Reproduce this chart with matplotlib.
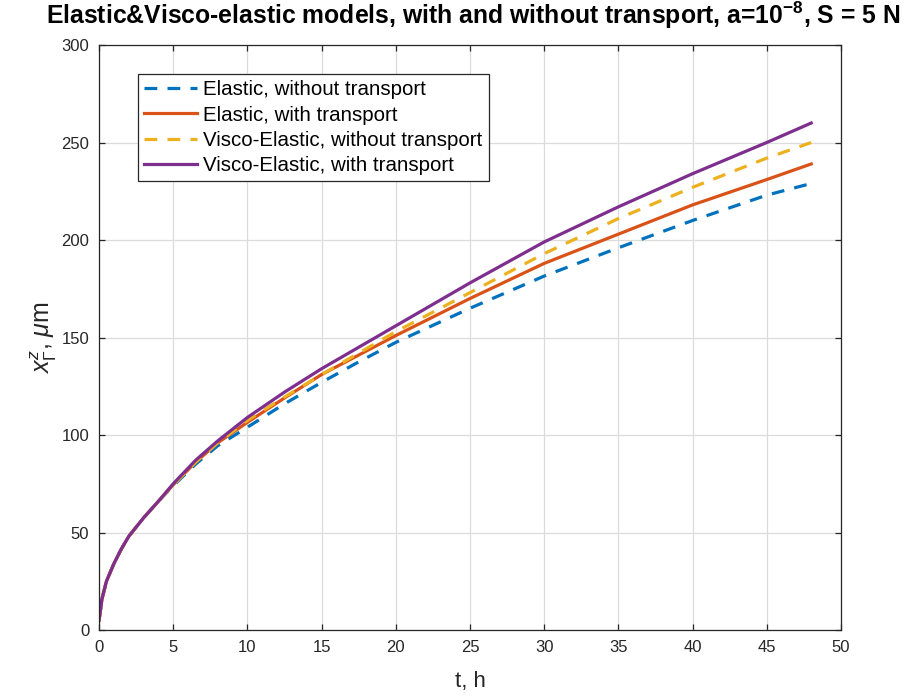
import numpy as np
import matplotlib
matplotlib.use('Agg')
import matplotlib.pyplot as plt

plt.rcParams['font.family'] = ['Liberation Sans', 'DejaVu Sans']
plt.rcParams['mathtext.fontset'] = 'custom'
plt.rcParams['mathtext.rm'] = 'Liberation Sans'
plt.rcParams['mathtext.it'] = 'Liberation Sans:italic'
plt.rcParams['mathtext.bf'] = 'Liberation Sans:bold'

# time, hours
t = [0, 0.2, 0.5, 1, 1.5, 2, 3, 4, 5, 6.5, 8, 10, 12.5, 15, 17.5, 20, 25, 30, 35, 40, 45, 48]

# x_Gamma^z, micrometres
elastic_no_tr = [5, 16, 25, 34, 41.5, 48, 57.5, 66, 74, 85, 94.5, 104, 116, 127, 137.5, 147.5,
                 165, 181.5, 196, 210, 223, 229]
elastic_tr = [5, 16, 25, 34, 41.5, 48, 57.5, 66, 74.5, 86, 96, 106.5, 119, 131, 141, 151,
              170, 188, 203, 218, 231, 239]
visco_no_tr = [5, 16, 25, 34, 41.5, 48, 57.5, 66, 74.5, 86, 96, 107.5, 119.5, 131, 142, 153,
               173, 193, 211, 227, 242, 250]
visco_tr = [5, 16, 25, 34, 41.5, 48, 57.5, 66, 75, 87, 97, 109, 122, 134, 145, 156,
            178, 199, 217, 234, 250, 260]

labels = ['Elastic, without transport', 'Elastic, with transport',
          'Visco-Elastic, without transport', 'Visco-Elastic, with transport']

fig = plt.figure(figsize=(9.17, 6.98), dpi=100)
ax = fig.add_axes([0.108, 0.0974, 0.809, 0.8381])

lw = 2.3
ax.plot(t, elastic_no_tr, color='#0072BD', lw=lw, dashes=(4, 3.2), label=labels[0])
ax.plot(t, elastic_tr, color='#D95319', lw=lw, label=labels[1])
ax.plot(t, visco_no_tr, color='#EDB120', lw=lw, dashes=(4, 3.2), label=labels[2])
ax.plot(t, visco_tr, color='#7E2F8E', lw=lw, label=labels[3])

ax.set_xlim(0, 50)
ax.set_ylim(0, 300)
ax.set_xticks(np.arange(0, 51, 5))
ax.set_yticks(np.arange(0, 301, 50))
ax.grid(True, color='#dcdcdc', lw=0.9)
ax.set_axisbelow(True)
for s in ax.spines.values():
    s.set_color('#262626')
    s.set_linewidth(0.9)
ax.tick_params(direction='in', length=4, width=0.9, colors='#262626', labelsize=12,
               top=True, right=True, pad=7)

ax.set_xlabel('t, h', fontsize=16, color='#262626', labelpad=12)
ax.set_ylabel(r'$x_{\Gamma}^{z}$, $\mu$m', fontsize=18, color='#262626', labelpad=2)
ax.set_title(r'Elastic&Visco-elastic models, with and without transport, a=10$^{\mathbf{-8}}$, S = 5 N',
             fontsize=17.8, fontweight='bold', pad=15, x=0.505)

leg = ax.legend(loc='upper left', bbox_to_anchor=(0.052, 0.95), fontsize=14.8,
                handlelength=2.6, handletextpad=0.3, labelspacing=0.3,
                borderpad=0.3, fancybox=False, framealpha=1, borderaxespad=0)
leg.get_frame().set_edgecolor('#262626')
leg.get_frame().set_linewidth(0.9)

fig.savefig('out.png', dpi=100)
